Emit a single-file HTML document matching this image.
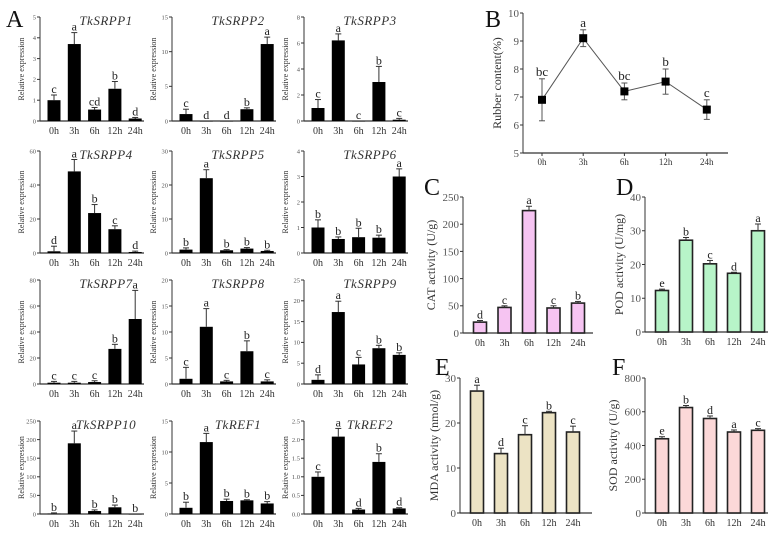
<!DOCTYPE html>
<html><head><meta charset="utf-8"><style>
html,body{margin:0;padding:0;background:#fff;}
svg{display:block;font-family:"Liberation Serif",serif;}
</style></head><body>
<svg id="fig" width="780" height="535" viewBox="0 0 780 535" xmlns="http://www.w3.org/2000/svg"></svg>
<script>
const timeLabels = ["0h","3h","6h","12h","24h"];
const geneNames = ["TkSRPP1","TkSRPP2","TkSRPP3","TkSRPP4","TkSRPP5","TkSRPP6","TkSRPP7","TkSRPP8","TkSRPP9","TkSRPP10","TkREF1","TkREF2"];
const geneValues = [
 [1,3.7,0.55,1.55,0.12],[1,0,0,1.7,11.1],[1,6.2,0,3,0.1],
 [1,48,23.5,14,0.6],[1,22,0.8,1.3,0.6],[1,0.55,0.62,0.6,3],
 [1,1,1.5,27,50],[1,11,0.5,6.3,0.5],[1,17.3,4.7,8.6,7],
 [1,190,8,18,0],[1,11.6,2.1,2.2,1.7],[1,2.08,0.12,1.4,0.15]];
const geneErrors = [
 [0.25,0.55,0.1,0.35,0.05],[0.7,0,0,0.2,1],[0.65,0.5,0,1.2,0.1],
 [3,7,5,2,0.5],[0.5,2.5,0.2,0.3,0.2],[0.3,0.08,0.35,0.1,0.3],
 [1,1,1,3.5,22],[2.2,3.5,0.2,2,0.3],[1.2,2.6,1.7,0.7,0.5],
 [2,33,3,6,0],[0.9,1.4,0.3,0.1,0.3],[0.13,0.22,0.03,0.22,0.02]];
const geneLetters = [
 ["c","a","cd","b","d"],["c","d","d","b","a"],["c","a","c","b","c"],
 ["d","a","b","c","d"],["b","a","b","b","b"],["b","b","b","b","a"],
 ["c","c","c","b","a"],["c","a","c","b","c"],["d","a","c","b","b"],
 ["b","a","b","b","b"],["b","a","b","b","b"],["c","a","d","b","d"]];
const geneTicks = [
 [0,1,2,3,4,5],[0,5,10,15],[0,2,4,6,8],
 [0,20,40,60],[0,10,20,30],[0,1,2,3,4],
 [0,20,40,60,80],[0,5,10,15,20],[0,5,10,15,20,25],
 [0,50,100,150,200,250],[0,5,10,15],[0.0,0.5,1.0,1.5,2.0,2.5]];
const rubberValues = [6.9,9.1,7.2,7.55,6.55];
const rubberErrors = [0.75,0.3,0.3,0.45,0.35];
const rubberLetters = ["bc","a","bc","b","c"];
const rubberTicks = [5,6,7,8,9,10];
const catValues = [20,47,225,46,55];
const catErrors = [3,3,8,4,3];
const catLetters = ["d","c","a","c","b"];
const catTicks = [0,50,100,150,200,250];
const podValues = [12.3,27.2,20.2,17.4,30];
const podErrors = [0.4,0.8,1,0.3,2];
const podLetters = ["e","b","c","d","a"];
const podTicks = [0,10,20,30,40];
const mdaValues = [27.1,13.2,17.4,22.3,18];
const mdaErrors = [1.3,1.2,2,0.3,1.3];
const mdaLetters = ["a","d","c","b","c"];
const mdaTicks = [0,10,20,30];
const sodValues = [440,625,560,480,490];
const sodErrors = [12,12,15,12,10];
const sodLetters = ["e","b","d","a","c"];
const sodTicks = [0,200,400,600,800];

const svg = document.getElementById('fig');
const NS = "http://www.w3.org/2000/svg";
function mk(tag, attrs, parent, text){
  const e = document.createElementNS(NS, tag);
  for (const k in attrs) e.setAttribute(k, attrs[k]);
  if (text !== undefined) e.textContent = text;
  (parent||svg).appendChild(e);
  return e;
}

function barPanel(o){
  const g = mk('g', {});
  
  
  const min = o.ticks[0], max = o.ticks[o.ticks.length-1];
  const y = v => o.base - (v-min)/(max-min)*(o.base-o.top);
  const x = i => o.ax + o.off + i*o.step;
  const ya = mk('line',{x1:o.ax,y1:o.top,x2:o.ax,y2:o.base,stroke:'#333','stroke-width':1},g);
  
  
  const xa = mk('line',{x1:o.ax,y1:o.base,x2:o.ax+o.len,y2:o.base,stroke:'#333','stroke-width':1.3},g);
  
  
  o.ticks.forEach(t=>{
    mk('line',{x1:o.ax-3,y1:y(t),x2:o.ax,y2:y(t),stroke:'#333'},g);
    const tl = mk('text',{x:o.ax-4,y:y(t)+o.tfs*0.35,'font-size':o.tfs,'text-anchor':'end',fill:'#555'},g,o.fmt?o.fmt(t):String(t));
    
    
  });
  timeLabels.forEach((lab,i)=>{
    if (o.xticks) mk('line',{x1:x(i),y1:o.base,x2:x(i),y2:o.base+3,stroke:'#333'},g);
    const xl = mk('text',{x:x(i),y:o.base+o.xfs+3,'font-size':o.xfs,'text-anchor':'middle',fill:'#333'},g,lab);
    
    
  });
  o.values.forEach((v,i)=>{
    const cx = x(i), top = y(Math.max(v,min)), et = y(v+o.errors[i]);
    if (o.line) return;
    const r = mk('rect',{x:cx-o.bw/2,y:top,width:o.bw,height:Math.max(o.base-top,0.5),fill:o.fill,stroke:o.stroke||'none','stroke-width':o.stroke?1.6:0},g);
    
    
    if (o.errors[i]>0){
      mk('line',{x1:cx,y1:top,x2:cx,y2:et,stroke:'#333','stroke-width':1},g);
      mk('line',{x1:cx-3,y1:et,x2:cx+3,y2:et,stroke:'#333','stroke-width':1},g);
    }
    const lt = mk('text',{x:cx,y:Math.min(et,top)-2,'font-size':o.lfs,'text-anchor':'middle',fill:'#222'},g,o.letters[i]);
    
    
  });
  if (o.line){
    const pts = o.values.map((v,i)=>x(i)+','+y(v)).join(' ');
    const pl = mk('polyline',{points:pts,fill:'none',stroke:'#555','stroke-width':1},g);
    
    
    o.values.forEach((v,i)=>{
      const cx=x(i), e1=y(v+o.errors[i]), e2=y(v-o.errors[i]);
      mk('line',{x1:cx,y1:e1,x2:cx,y2:e2,stroke:'#555'},g);
      mk('line',{x1:cx-3,y1:e1,x2:cx+3,y2:e1,stroke:'#555'},g);
      mk('line',{x1:cx-3,y1:e2,x2:cx+3,y2:e2,stroke:'#555'},g);
      const p = mk('rect',{x:cx-4,y:y(v)-4,width:8,height:8,fill:'#000'},g);
      
      
      const lt = mk('text',{x:cx,y:e1-3,'font-size':o.lfs,'text-anchor':'middle',fill:'#222'},g,o.letters[i]);
      
      
    });
  }
  if (o.title){
    const t = mk('text',{x:o.ax+66,y:o.top+8,'font-size':13,'font-style':'italic','text-anchor':'middle',fill:'#333','letter-spacing':'0.5'},g,o.title);
    
    
  }
  const yc = (o.top+o.base)/2;
  const yt = mk('text',{x:o.ax-o.ytOff,y:yc,'font-size':o.ytfs,'text-anchor':'middle',fill:'#333',transform:`rotate(-90 ${o.ax-o.ytOff} ${yc})`},g,o.ytitle);
  
  
}

const colX = [40,172,304];
const rows = [[17,121],[151,253],[280,384],[421,514]];
geneNames.forEach((n,k)=>{
  const r = Math.floor(k/3), c = k%3;
  const isRef2 = k===11;
  barPanel({name:'panel-'+n.toLowerCase(), ax:colX[c], top:rows[r][0], base:rows[r][1], off:14, step:20.3, len:104, bw:13,
    ticks:geneTicks[k], values:geneValues[k], errors:geneErrors[k], letters:geneLetters[k],
    fill:'#000', tfs:6.5, xfs:10, lfs:12, title:n, ytitle:'Relative expression', ytfs:8, ytOff:16,
    fmt: isRef2 ? (t=>t.toFixed(1)) : null});
});
barPanel({name:'panel-b-rubber', ax:523, top:13, base:153, off:19, step:41.2, len:205, bw:0,
  ticks:rubberTicks, values:rubberValues, errors:rubberErrors, letters:rubberLetters, line:true, xticks:true,
  fill:'#000', tfs:11, xfs:9, lfs:13, ytitle:'Rubber content(%)', ytfs:12, ytOff:22});
const common = {off:17, step:24, len:130, bw:13, tfs:11, xfs:10, lfs:12, ytfs:12, ytOff:28};
barPanel(Object.assign({}, common, {name:'panel-c-cat', ax:463, top:197, base:333, ticks:catTicks, values:catValues, errors:catErrors, letters:catLetters, fill:'#f6c4f2', stroke:'#222', ytitle:'CAT activity (U/g)', len:130, step:24.5}));
barPanel(Object.assign({}, common, {name:'panel-d-pod', ax:645, top:197, base:332, ticks:podTicks, values:podValues, errors:podErrors, letters:podLetters, fill:'#b7f4c8', stroke:'#222', ytitle:'POD activity (U/mg)', len:123, ytOff:22}));
barPanel(Object.assign({}, common, {name:'panel-e-mda', ax:460, top:378, base:513, ticks:mdaTicks, values:mdaValues, errors:mdaErrors, letters:mdaLetters, fill:'#ece3c4', stroke:'#222', ytitle:'MDA activity (nmol/g)', len:132, ytOff:22}));
barPanel(Object.assign({}, common, {name:'panel-f-sod', ax:645, top:378, base:513, ticks:sodTicks, values:sodValues, errors:sodErrors, letters:sodLetters, fill:'#fcd8d8', stroke:'#222', ytitle:'SOD activity (U/g)', len:123, ytOff:28}));

[["A",6,27],["B",485,27],["C",424,195],["D",616,195],["E",435,375],["F",612,375]].forEach(p=>{
  const t = mk('text',{x:p[1],y:p[2],'font-size':24,fill:'#111'},svg,p[0]);
  
  
});
</script>
</body></html>
